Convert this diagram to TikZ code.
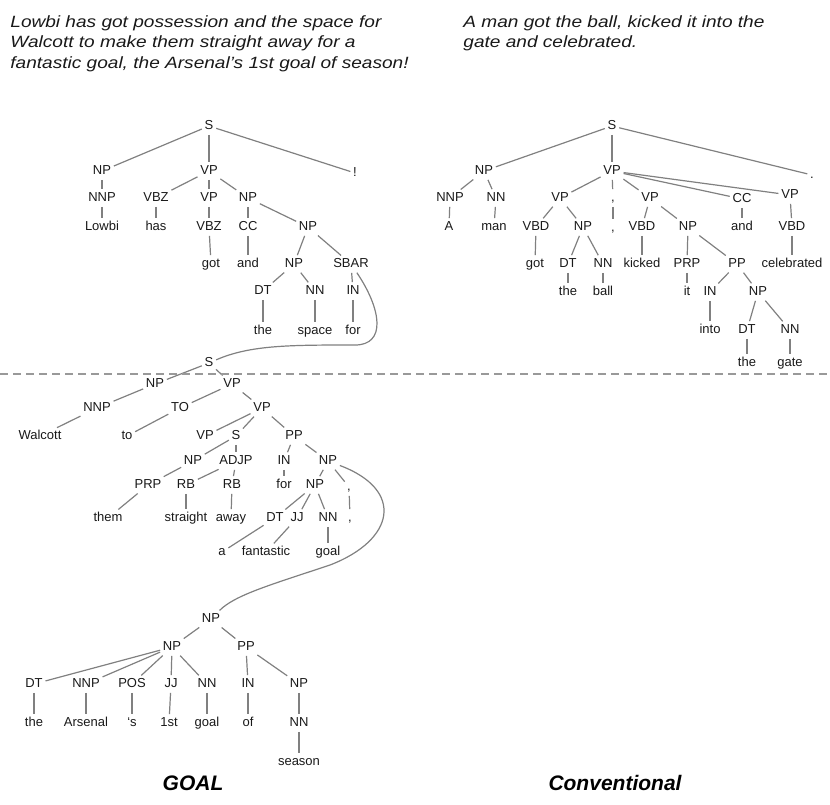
\documentclass[tikz,border=0pt]{standalone}
\usepackage{fontspec}
\setmainfont{Liberation Sans}
\newfontfamily\sentfont{Liberation Sans}[FakeStretch=1.17]
\usepackage{tikz}

\begin{document}
\begin{tikzpicture}[x=1pt,y=-1pt,thick]
\tikzstyle{tag}=[inner sep=1.5pt,text height=9.5pt,text depth=2.5pt,font=\fontsize{13}{15}\selectfont,text=black!90]
\tikzstyle{edge}=[draw=black!50,line width=1.2pt,shorten >=1pt,shorten <=1pt]
\tikzstyle{sentence}=[anchor=north west,inner sep=0pt,align=left,font=\sentfont\itshape\fontsize{16.3}{20.5}\selectfont,text=black!90]
\tikzstyle{caption}=[inner sep=0pt,font=\bfseries\itshape\fontsize{21}{24}\selectfont]
\useasboundingbox (0,0) rectangle (830,804);

% sentences
\node[sentence] (gtext) at (10,15) {Lowbi has got possession and the space for\\Walcott to make them straight away for a\\fantastic goal, the Arsenal’s 1st goal of season!};
\node[sentence] (ctext) at (463,15) {A man got the ball, kicked it into the\\gate and celebrated.};

% GOAL tree
\foreach \n/\x/\y/\t in {gS/209/126/S, gNP/102/171/NP, gVP/209/171/VP, gExcl/355/173/!,
  gNNP/102/198/NNP, gVBZ/156/198/VBZ, gVPb/209/198/VP, gNPb/248/198/NP,
  gwLowbi/102/227/Lowbi, gwHas/156/227/has, gVBZb/209/227/VBZ, gCC/248/227/CC, gNPc/308/227/NP,
  gwGot/211/264/got, gwAnd/248/264/and, gNPd/294/264/NP, gSBAR/351/264/SBAR,
  gDT/263/291/DT, gNN/315/291/NN, gIN/353/291/IN,
  gwThe/263/331/the, gwSpace/315/331/space, gwFor/353/331/for,
  gSb/209/363/S, gNPe/155/384/NP, gVPc/232/384/VP,
  gNNPb/97/408/NNP, gTO/180/408/TO, gVPd/262/408/VP,
  gwWalcott/40/436/Walcott, gwTo/127/436/to, gVPe/205/436/VP, gSc/236/436/S, gPP/294/436/PP,
  gNPf/193/461/NP, gADJP/236/461/ADJP, gINb/284/461/IN, gNPg/328/461/NP,
  gPRP/148/485/PRP, gRB/186/485/RB, gRBb/232/485/RB, gwForb/284/485/for, gNPh/315/485/NP, gComma/349/487/{,},
  gwThem/108/518/them, gwStraight/186/518/straight, gwAway/231/518/away,
  gDTb/275/518/DT, gJJ/297/518/JJ, gNNb/328/518/NN, gwComma/350/518/{,},
  gwA/222/552/a, gwFantastic/266/552/fantastic, gwGoal/328/552/goal,
  gNPi/211/619/NP, gNPj/172/647/NP, gPPb/246/647/PP,
  gDTc/34/684/DT, gNNPc/86/684/NNP, gPOS/132/684/POS, gJJb/171/684/JJ, gNNc/207/684/NN, gINc/248/684/IN, gNPk/299/684/NP,
  gwThec/34/723/the, gwArsenal/86/723/Arsenal, gwPoss/132/723/‘s, gw1st/169/723/1st, gwGoalb/207/723/goal, gwOf/248/723/of, gNNd/299/723/NN,
  gwSeason/299/762/season}
  \node[tag] (\n) at (\x,\y) {\t};

\foreach \a/\b in {gS/gNP, gS/gVP, gS/gExcl, gNP/gNNP, gNNP/gwLowbi, gVP/gVBZ, gVP/gVPb, gVP/gNPb,
  gVBZ/gwHas, gVPb/gVBZb, gVBZb/gwGot, gNPb/gCC, gNPb/gNPc, gCC/gwAnd, gNPc/gNPd, gNPc/gSBAR,
  gNPd/gDT, gNPd/gNN, gDT/gwThe, gNN/gwSpace, gSBAR/gIN, gIN/gwFor,
  gSb/gNPe, gSb/gVPc, gNPe/gNNPb, gNNPb/gwWalcott, gVPc/gTO, gVPc/gVPd, gTO/gwTo,
  gVPd/gVPe, gVPd/gSc, gVPd/gPP, gSc/gNPf, gSc/gADJP, gNPf/gPRP, gPRP/gwThem,
  gADJP/gRB, gADJP/gRBb, gRB/gwStraight, gRBb/gwAway, gPP/gINb, gPP/gNPg, gINb/gwForb,
  gNPg/gNPh, gNPg/gComma, gComma/gwComma, gNPh/gDTb, gNPh/gJJ, gNPh/gNNb,
  gDTb/gwA, gJJ/gwFantastic, gNNb/gwGoal,
  gNPi/gNPj, gNPi/gPPb, gNPj/gDTc, gNPj/gNNPc, gNPj/gPOS, gNPj/gJJb, gNPj/gNNc,
  gPPb/gINc, gPPb/gNPk, gDTc/gwThec, gNNPc/gwArsenal, gPOS/gwPoss, gJJb/gw1st,
  gNNc/gwGoalb, gINc/gwOf, gNPk/gNNd, gNNd/gwSeason}
  \draw[edge] (\a) -- (\b);

% the long links
\draw[edge] (gSBAR) .. controls (382,310) and (386,345) .. (355,345) .. controls (290,345) and (250,345) .. (gSb);
\draw[edge] (gNPg) .. controls (405,490) and (395,540) .. (330,565) .. controls (270,585) and (235,595) .. (gNPi);

% Conventional tree
\foreach \n/\x/\y/\t in {cS/612/126/S, cNP/484/171/NP, cVP/612/171/VP, cDot/812/175/.,
  cNNP/450/198/NNP, cNN/496/198/NN, cVPa/560/198/VP, cCommaT/613/198/{,}, cVPb/650/198/VP, cCC/742/199/CC, cVPc/790/195/VP,
  cwA/449/227/A, cwMan/494/227/man, cVBD/536/227/VBD, cNPa/583/227/NP, cwComma/613/228/{,},
  cVBDb/642/227/VBD, cNPb/688/227/NP, cwAnd/742/227/and, cVBDc/792/227/VBD,
  cwGot/535/264/got, cDT/568/264/DT, cNNb/603/264/NN, cwKicked/642/264/kicked, cPRP/687/264/PRP, cPP/737/264/PP, cwCelebrated/792/264/celebrated,
  cwThe/568/292/the, cwBall/603/292/ball, cwIt/687/292/it, cIN/710/292/IN, cNPc/758/292/NP,
  cwInto/710/330/into, cDTb/747/330/DT, cNNc/790/330/NN,
  cwTheb/747/363/the, cwGate/790/363/gate}
  \node[tag] (\n) at (\x,\y) {\t};

\foreach \a/\b in {cS/cNP, cS/cVP, cS/cDot, cNP/cNNP, cNP/cNN, cNNP/cwA, cNN/cwMan,
  cVP/cVPa, cVP/cCommaT, cVP/cVPb, cVP/cCC, cVP/cVPc, cVPa/cVBD, cVPa/cNPa, cVBD/cwGot,
  cNPa/cDT, cNPa/cNNb, cDT/cwThe, cNNb/cwBall, cCommaT/cwComma, cVPb/cVBDb, cVPb/cNPb,
  cVBDb/cwKicked, cNPb/cPRP, cNPb/cPP, cPRP/cwIt, cPP/cIN, cPP/cNPc, cIN/cwInto,
  cNPc/cDTb, cNPc/cNNc, cDTb/cwTheb, cNNc/cwGate, cCC/cwAnd, cVPc/cVBDc, cVBDc/cwCelebrated}
  \draw[edge] (\a) -- (\b);

% separator and captions
\coordinate (sepL) at (0,374);
\coordinate (sepR) at (830,374);
\draw[black!40,line width=1.2pt,dash pattern=on 8pt off 5pt] (sepL) -- (sepR);
\node[caption] (goal) at (193,783) {GOAL};
\node[caption] (conv) at (615,783) {Conventional};
\end{tikzpicture}
\end{document}
